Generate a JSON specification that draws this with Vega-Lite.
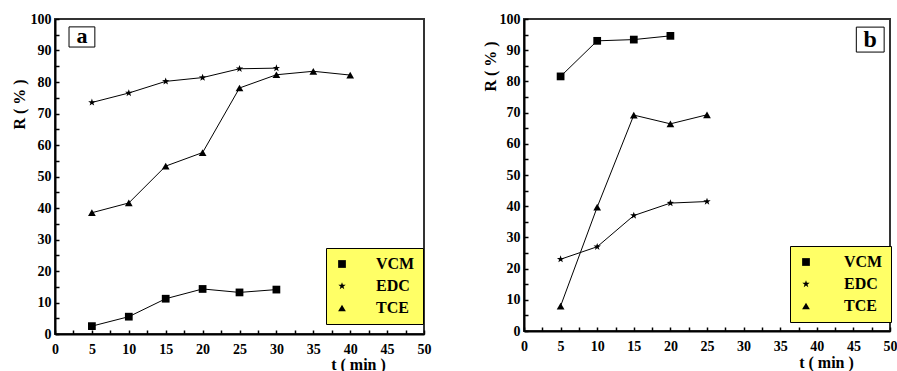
{
  "$schema": "https://vega.github.io/schema/vega-lite/v6.json",
  "background": "white",
  "padding": {"left": 10, "top": 11, "right": 0, "bottom": 0},
  "spacing": 48,
  "config": {
    "font": "Liberation Serif",
    "view": {"stroke": "#333", "strokeWidth": 2},
    "axis": {
      "domainColor": "black", "domainWidth": 2,
      "tickColor": "black", "tickWidth": 1.5, "tickSize": -4,
      "labelFont": "Liberation Serif", "labelFontWeight": "bold", "labelFontSize": 14, "labelColor": "black",
      "titleFont": "Liberation Serif", "titleFontWeight": "bold", "titleFontSize": 16, "titleColor": "black",
      "grid": false, "labelFlush": false, "labelOverlap": false
    }
  },
  "data": {"values": [
    {"panel": "a", "series": "VCM", "t": 5, "R": 2.5},
    {"panel": "a", "series": "VCM", "t": 10, "R": 5.5},
    {"panel": "a", "series": "VCM", "t": 15, "R": 11.2},
    {"panel": "a", "series": "VCM", "t": 20, "R": 14.3},
    {"panel": "a", "series": "VCM", "t": 25, "R": 13.2},
    {"panel": "a", "series": "VCM", "t": 30, "R": 14.1},
    {"panel": "a", "series": "EDC", "t": 5, "R": 73.5},
    {"panel": "a", "series": "EDC", "t": 10, "R": 76.5},
    {"panel": "a", "series": "EDC", "t": 15, "R": 80.2},
    {"panel": "a", "series": "EDC", "t": 20, "R": 81.4},
    {"panel": "a", "series": "EDC", "t": 25, "R": 84.2},
    {"panel": "a", "series": "EDC", "t": 30, "R": 84.4},
    {"panel": "a", "series": "TCE", "t": 5, "R": 38.5},
    {"panel": "a", "series": "TCE", "t": 10, "R": 41.6},
    {"panel": "a", "series": "TCE", "t": 15, "R": 53.3},
    {"panel": "a", "series": "TCE", "t": 20, "R": 57.6},
    {"panel": "a", "series": "TCE", "t": 25, "R": 78.1},
    {"panel": "a", "series": "TCE", "t": 30, "R": 82.3},
    {"panel": "a", "series": "TCE", "t": 35, "R": 83.4},
    {"panel": "a", "series": "TCE", "t": 40, "R": 82.2},
    {"panel": "b", "series": "VCM", "t": 5, "R": 81.6},
    {"panel": "b", "series": "VCM", "t": 10, "R": 93.0},
    {"panel": "b", "series": "VCM", "t": 15, "R": 93.4},
    {"panel": "b", "series": "VCM", "t": 20, "R": 94.6},
    {"panel": "b", "series": "EDC", "t": 5, "R": 23.0},
    {"panel": "b", "series": "EDC", "t": 10, "R": 27.0},
    {"panel": "b", "series": "EDC", "t": 15, "R": 37.0},
    {"panel": "b", "series": "EDC", "t": 20, "R": 41.0},
    {"panel": "b", "series": "EDC", "t": 25, "R": 41.5},
    {"panel": "b", "series": "TCE", "t": 5, "R": 8.0},
    {"panel": "b", "series": "TCE", "t": 10, "R": 39.7},
    {"panel": "b", "series": "TCE", "t": 15, "R": 69.2},
    {"panel": "b", "series": "TCE", "t": 20, "R": 66.4},
    {"panel": "b", "series": "TCE", "t": 25, "R": 69.3}
  ]},
  "resolve": {
    "scale": {"shape": "independent"},
    "legend": {"shape": "independent"}
  },
  "hconcat": [
    {
      "width": 369, "height": 315,
      "transform": [{"filter": "datum.panel === 'a'"}],
      "encoding": {
        "x": {"field": "t", "type": "quantitative", "scale": {"domain": [0, 50], "nice": false},
          "axis": {"title": "t ( min )", "values": [0,2.5,5,7.5,10,12.5,15,17.5,20,22.5,25,27.5,30,32.5,35,37.5,40,42.5,45,47.5,50],
            "labelExpr": "datum.value % 5 === 0 ? datum.label : ''", "labelPadding": 12,
            "titleX": 303, "titleY": 22, "titleBaseline": "top", "titleAlign": "center"}},
        "y": {"field": "R", "type": "quantitative", "scale": {"domain": [0, 100], "nice": false},
          "axis": {"title": "R ( % )", "values": [0,5,10,15,20,25,30,35,40,45,50,55,60,65,70,75,80,85,90,95,100],
            "labelExpr": "datum.value % 10 === 0 ? datum.label : ''", "labelPadding": 8,
            "titleX": -36, "titleY": 85, "titleAlign": "center", "titleBaseline": "middle"}}
      },
      "layer": [
        {"mark": {"type": "line", "color": "black", "strokeWidth": 1},
          "encoding": {"detail": {"field": "series"}}},
        {"mark": {"type": "point", "filled": true, "color": "black", "opacity": 1, "size": 60},
          "encoding": {"shape": {"field": "series", "type": "nominal",
            "scale": {"domain": ["VCM", "EDC", "TCE"], "range": ["square", "M0,-1L0.235,-0.324L0.951,-0.309L0.38,0.124L0.588,0.809L0,0.4L-0.588,0.809L-0.38,0.124L-0.951,-0.309L-0.235,-0.324Z", "triangle-up"]},
            "legend": {"orient": "none", "legendX": 271, "legendY": 229, "title": null,
              "fillColor": "#ffff66", "strokeColor": "black", "padding": 8, "rowPadding": 6, "symbolSize": 60,
              "symbolFillColor": "black", "symbolStrokeColor": "black", "labelOffset": 26,
              "labelFont": "Liberation Serif", "labelFontSize": 16, "labelFontWeight": "bold", "labelColor": "black"}}}},
        {"transform": [{"filter": "datum.t === 5 && datum.series === 'VCM'"}],
          "mark": {"type": "rect", "fill": "white", "stroke": "black", "strokeWidth": 1},
          "encoding": {"x": {"datum": 1.9}, "x2": {"datum": 5.4}, "y": {"datum": 97.5}, "y2": {"datum": 91.1}}},
        {"transform": [{"filter": "datum.t === 5 && datum.series === 'VCM'"}],
          "mark": {"type": "text", "text": "a", "font": "Liberation Serif", "fontWeight": "bold", "fontSize": 22, "color": "black", "baseline": "middle"},
          "encoding": {"x": {"datum": 3.65}, "y": {"datum": 94.5}}}
      ]
    },
    {
      "width": 366, "height": 312,
      "transform": [{"filter": "datum.panel === 'b'"}],
      "encoding": {
        "x": {"field": "t", "type": "quantitative", "scale": {"domain": [0, 50], "nice": false},
          "axis": {"title": "t ( min )", "values": [0,2.5,5,7.5,10,12.5,15,17.5,20,22.5,25,27.5,30,32.5,35,37.5,40,42.5,45,47.5,50],
            "labelExpr": "datum.value % 5 === 0 ? datum.label : ''", "labelPadding": 12,
            "titleX": 302, "titleY": 23, "titleBaseline": "top", "titleAlign": "center"}},
        "y": {"field": "R", "type": "quantitative", "scale": {"domain": [0, 100], "nice": false},
          "axis": {"title": "R ( % )", "values": [0,5,10,15,20,25,30,35,40,45,50,55,60,65,70,75,80,85,90,95,100],
            "labelExpr": "datum.value % 10 === 0 ? datum.label : ''", "labelPadding": 8,
            "titleX": -34, "titleY": 47, "titleAlign": "center", "titleBaseline": "middle"}}
      },
      "layer": [
        {"mark": {"type": "line", "color": "black", "strokeWidth": 1},
          "encoding": {"detail": {"field": "series"}}},
        {"mark": {"type": "point", "filled": true, "color": "black", "opacity": 1, "size": 60},
          "encoding": {"shape": {"field": "series", "type": "nominal",
            "scale": {"domain": ["VCM", "EDC", "TCE"], "range": ["square", "M0,-1L0.235,-0.324L0.951,-0.309L0.38,0.124L0.588,0.809L0,0.4L-0.588,0.809L-0.38,0.124L-0.951,-0.309L-0.235,-0.324Z", "triangle-up"]},
            "legend": {"orient": "none", "legendX": 266, "legendY": 227, "title": null,
              "fillColor": "#ffff66", "strokeColor": "black", "padding": 8, "rowPadding": 6, "symbolSize": 60,
              "symbolFillColor": "black", "symbolStrokeColor": "black", "labelOffset": 30,
              "labelFont": "Liberation Serif", "labelFontSize": 16, "labelFontWeight": "bold", "labelColor": "black"}}}},
        {"transform": [{"filter": "datum.t === 5 && datum.series === 'VCM'"}],
          "mark": {"type": "rect", "fill": "white", "stroke": "black", "strokeWidth": 1},
          "encoding": {"x": {"datum": 45.4}, "x2": {"datum": 49.2}, "y": {"datum": 97.4}, "y2": {"datum": 89.4}}},
        {"transform": [{"filter": "datum.t === 5 && datum.series === 'VCM'"}],
          "mark": {"type": "text", "text": "b", "font": "Liberation Serif", "fontWeight": "bold", "fontSize": 24, "color": "black", "baseline": "middle"},
          "encoding": {"x": {"datum": 47.3}, "y": {"datum": 93.4}}}
      ]
    }
  ]
}
